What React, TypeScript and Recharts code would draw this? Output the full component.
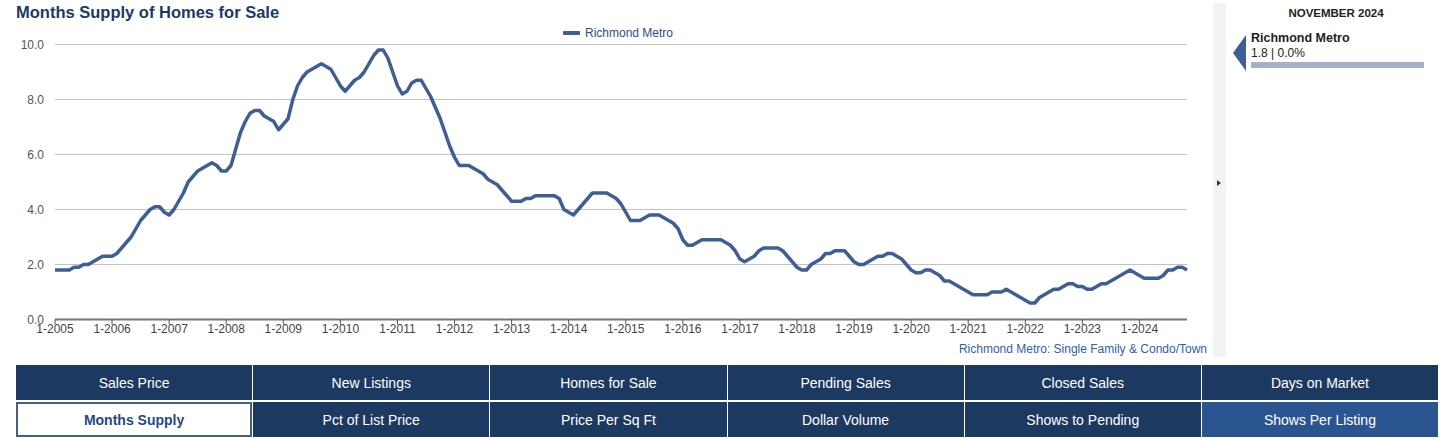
import { LineChart, Line, XAxis, YAxis, CartesianGrid } from "recharts";

const START_YEAR = 2005;

// months supply, Jan 2005 .. Nov 2024, one row per year
const monthsSupply = [
  1.8, 1.8, 1.8, 1.8, 1.9, 1.9, 2.0, 2.0, 2.1, 2.2, 2.3, 2.3,
  2.3, 2.4, 2.6, 2.8, 3.0, 3.3, 3.6, 3.8, 4.0, 4.1, 4.1, 3.9,
  3.8, 4.0, 4.3, 4.6, 5.0, 5.2, 5.4, 5.5, 5.6, 5.7, 5.6, 5.4,
  5.4, 5.6, 6.2, 6.8, 7.2, 7.5, 7.6, 7.6, 7.4, 7.3, 7.2, 6.9,
  7.1, 7.3, 8.0, 8.5, 8.8, 9.0, 9.1, 9.2, 9.3, 9.2, 9.1, 8.8,
  8.5, 8.3, 8.5, 8.7, 8.8, 9.0, 9.3, 9.6, 9.8, 9.8, 9.5, 9.0,
  8.5, 8.2, 8.3, 8.6, 8.7, 8.7, 8.4, 8.1, 7.7, 7.3, 6.8, 6.3,
  5.9, 5.6, 5.6, 5.6, 5.5, 5.4, 5.3, 5.1, 5.0, 4.9, 4.7, 4.5,
  4.3, 4.3, 4.3, 4.4, 4.4, 4.5, 4.5, 4.5, 4.5, 4.5, 4.4, 4.0,
  3.9, 3.8, 4.0, 4.2, 4.4, 4.6, 4.6, 4.6, 4.6, 4.5, 4.4, 4.2,
  3.9, 3.6, 3.6, 3.6, 3.7, 3.8, 3.8, 3.8, 3.7, 3.6, 3.5, 3.3,
  2.9, 2.7, 2.7, 2.8, 2.9, 2.9, 2.9, 2.9, 2.9, 2.8, 2.7, 2.5,
  2.2, 2.1, 2.2, 2.3, 2.5, 2.6, 2.6, 2.6, 2.6, 2.5, 2.3, 2.1,
  1.9, 1.8, 1.8, 2.0, 2.1, 2.2, 2.4, 2.4, 2.5, 2.5, 2.5, 2.3,
  2.1, 2.0, 2.0, 2.1, 2.2, 2.3, 2.3, 2.4, 2.4, 2.3, 2.2, 2.0,
  1.8, 1.7, 1.7, 1.8, 1.8, 1.7, 1.6, 1.4, 1.4, 1.3, 1.2, 1.1,
  1.0, 0.9, 0.9, 0.9, 0.9, 1.0, 1.0, 1.0, 1.1, 1.0, 0.9, 0.8,
  0.7, 0.6, 0.6, 0.8, 0.9, 1.0, 1.1, 1.1, 1.2, 1.3, 1.3, 1.2,
  1.2, 1.1, 1.1, 1.2, 1.3, 1.3, 1.4, 1.5, 1.6, 1.7, 1.8, 1.7,
  1.6, 1.5, 1.5, 1.5, 1.5, 1.6, 1.8, 1.8, 1.9, 1.9, 1.8,
];

// january of each year, as month index
const yearTicks = [0, 12, 24, 36, 48, 60, 72, 84, 96, 108, 120, 132, 144, 156, 168, 180, 192, 204, 216, 228];
const yTicks = [0, 2, 4, 6, 8, 10];

const topButtons = ["Sales Price", "New Listings", "Homes for Sale", "Pending Sales", "Closed Sales", "Days on Market"];
const bottomButtons = ["Months Supply", "Pct of List Price", "Price Per Sq Ft", "Dollar Volume", "Shows to Pending", "Shows Per Listing"];

const FONT = '"Liberation Sans", Arial, Helvetica, sans-serif';
const NAVY = "#1c3961";
const LINE = "#3e5e95";

const data = monthsSupply.map((v, i) => ({ i, v }));

function Button({ label, active, light }: { label: string; active?: boolean; light?: boolean }) {
  return (
    <div
      style={{
        boxSizing: "border-box",
        display: "flex",
        alignItems: "center",
        justifyContent: "center",
        background: active ? "#fff" : light ? "#2a5590" : NAVY,
        border: active ? "2px solid #4a5f80" : "none",
        color: active ? "#1f4a87" : "#fff",
        fontWeight: active ? 700 : 400,
        fontSize: 14,
      }}
    >
      {label}
    </div>
  );
}

export default function App() {
  return (
    <div style={{ position: "absolute", left: 0, top: 0, width: 1456, height: 439, background: "#fff", fontFamily: FONT, overflow: "hidden" }}>
      <div style={{ position: "absolute", left: 16, top: 3, fontSize: 16.5, fontWeight: 700, color: "#1b3a66" }}>
        Months Supply of Homes for Sale
      </div>

      <div style={{ position: "absolute", left: 563, top: 26, display: "flex", alignItems: "center", gap: 5, fontSize: 12, color: "#2b4f86" }}>
        <span style={{ width: 17, height: 4, background: LINE, display: "inline-block", borderRadius: 1 }} />
        Richmond Metro
      </div>

      <div style={{ position: "absolute", left: 0, top: 0 }}>
        <LineChart width={1210} height={360} data={data} margin={{ top: 44.5, right: 23, left: 0, bottom: 10.5 }}>
          <CartesianGrid vertical={false} stroke="#c2c2c2" strokeWidth={1.2} />
          <XAxis
            dataKey="i"
            type="number"
            domain={[0, 238]}
            ticks={yearTicks}
            interval={0}
            height={30}
            tickSize={5}
            tickMargin={0}
            tickFormatter={(i: number) => `1-${START_YEAR + i / 12}`}
            tick={{ fontSize: 12, fill: "#444", fontFamily: FONT }}
            axisLine={{ stroke: "#777", strokeWidth: 2 }}
            tickLine={{ stroke: "#555" }}
          />
          <YAxis
            domain={[0, 10]}
            ticks={yTicks}
            width={55}
            axisLine={false}
            tickLine={false}
            tickMargin={5}
            tickFormatter={(v: number) => v.toFixed(1)}
            tick={{ fontSize: 12, fill: "#555", fontFamily: FONT }}
          />
          <Line
            type="linear"
            dataKey="v"
            stroke={LINE}
            strokeWidth={3.5}
            strokeLinejoin="round"
            dot={false}
            isAnimationActive={false}
          />
        </LineChart>
      </div>

      <div style={{ position: "absolute", right: 1456 - 1207, top: 342, fontSize: 12, color: "#2f62a6" }}>
        Richmond Metro: Single Family &amp; Condo/Town
      </div>

      {/* collapse strip */}
      <div style={{ position: "absolute", left: 1213, top: 3, width: 13, height: 354, background: "#f3f3f3" }} />
      <div
        style={{
          position: "absolute", left: 1217, top: 180, width: 0, height: 0,
          borderTop: "3.5px solid transparent", borderBottom: "3.5px solid transparent", borderLeft: `4px solid ${NAVY}`,
        }}
      />

      {/* right panel */}
      <div style={{ position: "absolute", left: 1226, width: 220, top: 7, textAlign: "center", fontSize: 11.5, fontWeight: 700, color: "#222" }}>
        NOVEMBER 2024
      </div>
      <div
        style={{
          position: "absolute", left: 1233, top: 35, width: 0, height: 0,
          borderTop: "18px solid transparent", borderBottom: "18px solid transparent", borderRight: `13px solid ${LINE}`,
        }}
      />
      <div style={{ position: "absolute", left: 1251, top: 31, fontSize: 12.5, fontWeight: 700, color: "#222" }}>Richmond Metro</div>
      <div style={{ position: "absolute", left: 1251, top: 46, fontSize: 12, color: "#222" }}>1.8 | 0.0%</div>
      <div style={{ position: "absolute", left: 1251, top: 62, width: 173, height: 6, background: "#a3b1ca" }} />

      {/* metric buttons */}
      <div
        style={{
          position: "absolute", left: 16, top: 365, width: 1422, height: 72,
          display: "grid", gridTemplateColumns: "repeat(6, 1fr)", gridTemplateRows: "35px 35px",
          columnGap: 1, rowGap: 2,
        }}
      >
        {topButtons.map((b) => <Button key={b} label={b} />)}
        {bottomButtons.map((b, k) => (
          <Button key={b} label={b} active={k === 0} light={k === bottomButtons.length - 1} />
        ))}
      </div>
    </div>
  );
}
